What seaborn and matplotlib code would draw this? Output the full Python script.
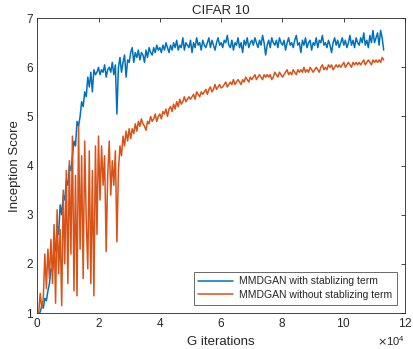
import pandas as pd
import matplotlib
matplotlib.use('Agg')
import matplotlib.pyplot as plt
import matplotlib.ticker as mticker
import seaborn as sns
import numpy as np

# inception score, one value every 500 G iterations
with_term = [
    1.0, 1.02, 1.15, 1.1, 1.3, 1.25, 1.45, 1.6, 1.9, 1.85,
    2.2, 2.3, 2.8, 2.6, 3.2, 3.0, 3.4, 3.3, 3.7, 3.6,
    4.0, 3.9, 4.2, 4.5, 4.4, 4.9, 4.8, 5.0, 5.3, 5.2,
    5.5, 5.4, 5.8, 5.6, 5.9, 5.5, 5.95, 5.85, 5.9, 6.0,
    5.85, 5.95, 5.9, 6.05, 5.8, 5.95, 6.0, 5.9, 6.1, 5.85,
    6.05, 5.05, 6.0, 6.2, 5.9, 6.1, 6.25, 5.8, 6.15, 6.1,
    6.3, 6.4, 6.1, 6.3, 6.2, 6.35, 6.15, 6.3, 6.25, 6.1,
    6.35, 6.2, 6.4, 6.3, 6.25, 6.4, 6.3, 6.45, 6.35, 6.4,
    6.3, 6.45, 6.35, 6.5, 6.4, 6.3, 6.45, 6.35, 6.5, 6.4,
    6.55, 6.35, 6.45, 6.4, 6.6, 6.35, 6.5, 6.45, 6.4, 6.55,
    6.3, 6.5, 6.4, 6.6, 6.45, 6.5, 6.35, 6.55, 6.45, 6.4,
    6.5, 6.6, 6.4, 6.55, 6.45, 6.35, 6.5, 6.6, 6.45, 6.5,
    6.4, 6.55, 6.5, 6.65, 6.45, 6.4, 6.55, 6.35, 6.5, 6.45,
    6.6, 6.4, 6.5, 6.3, 6.55, 6.45, 6.6, 6.4, 6.5, 6.55,
    6.45, 6.6, 6.5, 6.4, 6.55, 6.45, 6.65, 6.5, 6.25, 6.45,
    6.55, 6.4, 6.6, 6.5, 6.45, 6.55, 6.4, 6.6, 6.5, 6.45,
    6.55, 6.35, 6.5, 6.6, 6.45, 6.5, 6.4, 6.55, 6.65, 6.45,
    6.5, 6.3, 6.55, 6.45, 6.6, 6.4, 6.5, 6.55, 6.35, 6.5,
    6.45, 6.6, 6.4, 6.55, 6.5, 6.65, 6.45, 6.5, 6.4, 6.55,
    6.45, 6.3, 6.5, 6.6, 6.45, 6.55, 6.4, 6.5, 6.6, 6.45,
    6.55, 6.4, 6.5, 6.65, 6.45, 6.55, 6.4, 6.6, 6.5, 6.45,
    6.6, 6.5, 6.7, 6.45, 6.55, 6.4, 6.65, 6.5, 6.75, 6.5,
    6.6, 6.7, 6.45, 6.75, 6.6, 6.35,
]
without_term = [
    1.0, 1.4, 1.1, 1.3, 2.2, 1.5, 2.3, 1.7, 2.5, 1.6,
    2.8, 1.2, 3.1, 1.8, 2.7, 1.15, 3.5, 2.0, 3.9, 1.6,
    4.1, 2.2, 4.6, 1.45, 3.8, 1.35, 4.8, 2.3, 4.2, 1.7,
    4.5, 2.9, 1.9, 4.3, 1.6, 3.9, 1.35, 4.4, 2.6, 4.6,
    3.3, 4.4, 3.6, 4.2, 2.25, 3.8, 4.5, 3.4, 4.1, 3.6,
    4.3, 2.45, 3.9, 4.4, 4.2, 4.6, 4.4, 4.7, 4.5, 4.75,
    4.55, 4.75, 4.65, 4.85, 4.7, 4.9, 4.8, 4.95, 4.85, 4.8,
    4.72, 4.9, 4.85, 5.0, 4.9, 4.95, 5.05, 4.9, 5.0, 5.05,
    4.95, 5.1, 5.05, 5.15, 5.0, 5.15, 5.2, 5.1, 5.25, 5.15,
    5.3, 5.2, 5.35, 5.25, 5.3, 5.4, 5.3, 5.35, 5.4, 5.35,
    5.4, 5.45, 5.35, 5.5, 5.45, 5.4, 5.5, 5.45, 5.5, 5.55,
    5.45, 5.55, 5.6, 5.5, 5.55, 5.65, 5.55, 5.6, 5.65, 5.58,
    5.6, 5.65, 5.7, 5.6, 5.65, 5.7, 5.65, 5.75, 5.65, 5.7,
    5.75, 5.7, 5.65, 5.75, 5.7, 5.8, 5.75, 5.7, 5.8, 5.75,
    5.8, 5.85, 5.75, 5.8, 5.85, 5.8, 5.75, 5.85, 5.8, 5.85,
    5.8, 5.85, 5.75, 5.8, 5.9, 5.85, 5.8, 5.9, 5.85, 5.8,
    5.85, 5.9, 5.95, 5.85, 5.9, 5.85, 5.95, 5.9, 5.85, 5.95,
    5.9, 5.95, 5.9, 6.0, 5.9, 5.95, 5.9, 6.0, 5.95, 5.9,
    5.95, 6.0, 5.95, 5.9, 6.0, 6.05, 5.95, 6.0, 5.95, 6.05,
    6.0, 6.05, 5.95, 6.0, 6.05, 6.0, 6.05, 6.0, 6.05, 6.1,
    6.0, 6.05, 6.1, 6.05, 6.0, 6.1, 6.05, 6.1, 6.05, 6.1,
    6.05, 6.1, 6.15, 6.05, 6.1, 6.15, 6.1, 6.05, 6.15, 6.1,
    6.15, 6.1, 6.15, 6.1, 6.2, 6.15,
]
labels = ['MMDGAN with stablizing term', 'MMDGAN without stablizing term']
colors = ['#0072BD', '#D95319']

iters = np.arange(1, len(with_term) + 1) * 500
df = pd.concat([
    pd.DataFrame({'iter': iters, 'score': with_term, 'run': labels[0]}),
    pd.DataFrame({'iter': iters, 'score': without_term, 'run': labels[1]}),
])

sns.set_style('white')
plt.rcParams['font.family'] = ['Liberation Sans', 'DejaVu Sans']

fig = plt.figure(figsize=(4.13, 3.49), dpi=100)
ax = fig.add_axes([0.09, 0.103, 0.891, 0.845])
sns.lineplot(data=df, x='iter', y='score', hue='run', palette=colors,
             estimator=None, linewidth=1.1, ax=ax)

ax.set_xlim(0, 120000)
ax.set_ylim(1, 7)
ax.xaxis.set_major_locator(mticker.MultipleLocator(20000))
fmt = mticker.ScalarFormatter(useMathText=True)
fmt.set_powerlimits((4, 4))
ax.xaxis.set_major_formatter(fmt)
ax.xaxis.get_offset_text().set_fontsize(8)
ax.tick_params(direction='in', top=True, right=True, labelsize=8.5,
               length=3, width=0.6, colors='#262626', pad=3)
for s in ax.spines.values():
    s.set_linewidth(0.6)
    s.set_color('#262626')
ax.set_xlabel('G iterations', fontsize=9.5, color='#262626')
ax.set_ylabel('Inception Score', fontsize=9.5, color='#262626')
ax.set_title('CIFAR 10', fontsize=9.5, color='#262626', pad=3)

leg = ax.legend(loc='lower right', fontsize=7.5, frameon=True, fancybox=False,
                edgecolor='#262626', borderaxespad=0.8, handlelength=3.3,
                handletextpad=0.6, borderpad=0.45, labelspacing=0.35)
leg.get_frame().set_linewidth(0.6)

fig.savefig('out.png', dpi=100)
